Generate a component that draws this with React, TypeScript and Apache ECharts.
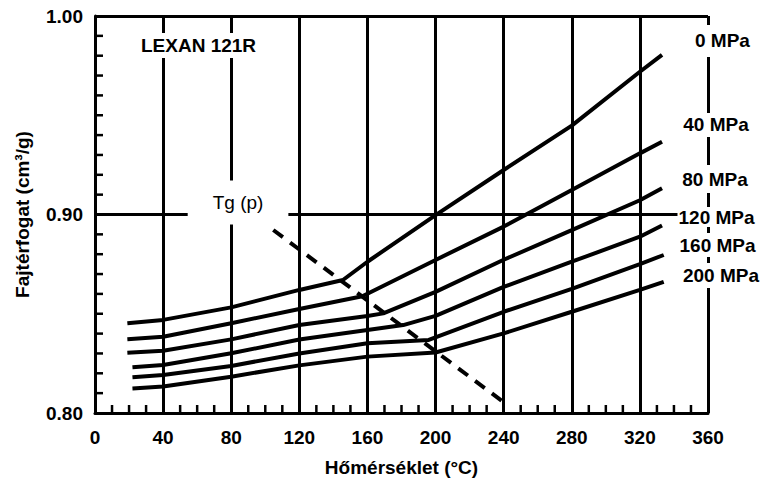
import React, { useEffect, useRef } from "react";
import * as echarts from "echarts";

// Temperature (°C) / specific volume (cm³/g) points
const p0MPa: [number, number][] = [
  [19, 0.8452], [40, 0.8469], [80, 0.8532], [120, 0.862], [145.6, 0.867],
  [160, 0.8762], [200, 0.8997], [240, 0.9224], [280, 0.9448], [320, 0.9719], [333, 0.9804],
];
const p40MPa: [number, number][] = [
  [19, 0.8371], [40, 0.8384], [80, 0.8452], [120, 0.8524], [157, 0.8588],
  [200, 0.8771], [240, 0.8939], [280, 0.9123], [320, 0.9308], [333, 0.9367],
];
const p80MPa: [number, number][] = [
  [19, 0.8303], [40, 0.8314], [80, 0.8371], [120, 0.8443], [160, 0.8489], [169.3, 0.8502],
  [200, 0.861], [240, 0.8772], [280, 0.8921], [320, 0.9072], [333, 0.9132],
];
const p120MPa: [number, number][] = [
  [22, 0.823], [40, 0.8242], [80, 0.8301], [120, 0.837], [160, 0.8418], [181, 0.8443],
  [200, 0.8489], [240, 0.8635], [280, 0.8762], [320, 0.8888], [333, 0.8945],
];
const p160MPa: [number, number][] = [
  [22, 0.818], [40, 0.8191], [80, 0.8237], [120, 0.83], [160, 0.8351], [196, 0.8368],
  [240, 0.851], [280, 0.8625], [320, 0.875], [334, 0.8796],
];
const p200MPa: [number, number][] = [
  [22, 0.8124], [40, 0.8133], [80, 0.8183], [120, 0.824], [160, 0.8284], [200, 0.8305],
  [240, 0.8401], [280, 0.851], [320, 0.862], [334, 0.8661],
];
const tgLine: [number, number][] = [
  [104.7, 0.8922], [240.8, 0.8049],
];

const curves = [p0MPa, p40MPa, p80MPa, p120MPa, p160MPa, p200MPa];

// Minor tick positions on the axes
const xMinorTicks = [10, 20, 30, 50, 60, 70, 90, 100, 110, 130, 140, 150, 170, 180, 190,
  210, 220, 230, 250, 260, 270, 290, 300, 310, 330, 340, 350];
const yMinorTicks = [0.81, 0.82, 0.83, 0.84, 0.85, 0.86, 0.87, 0.88, 0.89,
  0.91, 0.92, 0.93, 0.94, 0.95, 0.96, 0.97, 0.98, 0.99];

// Annotation texts: [text, x, y, padding, weight]
const notes: [string, number, number, number[], string][] = [
  ["LEXAN 121R", 60.8, 0.98514, [4, 6, 2, 6], "bold"],
  ["Tg (p)", 84.0, 0.90605, [17, 25, 8, 25], "normal"],
  ["0 MPa", 368.5, 0.98741, [7, 1, 6, 1], "bold"],
  ["40 MPa", 364.7, 0.94509, [4, 1, 1, 1], "bold"],
  ["80 MPa", 364.1, 0.91788, [3, 1, 6, 1], "bold"],
  ["120 MPa", 365.0, 0.89874, [0, 1, 1, 1], "bold"],
  ["160 MPa", 365.6, 0.88463, [3, 1, 2, 1], "bold"],
  ["200 MPa", 367.6, 0.86927, [3, 1, 3, 1], "bold"],
];

const FONT = "'Liberation Sans', Arial, sans-serif";
const X_MIN = 0;
const Y_MIN = 0.8;

export default function App() {
  const ref = useRef<HTMLDivElement>(null);
  useEffect(() => {
    document.body.style.margin = "0";
    if (!ref.current) return;
    const chart = echarts.init(ref.current, undefined, { renderer: "svg" });
    const axisText = { color: "#000", fontWeight: "bold" as const, fontSize: 19, fontFamily: FONT };
    const xTicks = xMinorTicks.map((v) => [v, Y_MIN]);
    const yTicks = yMinorTicks.map((v) => [X_MIN, v]);
    chart.setOption({
      animation: false,
      backgroundColor: "#fff",
      grid: { left: 95, right: 55, top: 16, bottom: 75 },
      xAxis: {
        type: "value",
        min: 0,
        max: 360,
        interval: 40,
        name: "Hőmérséklet (°C)",
        nameLocation: "middle",
        nameGap: 45,
        nameTextStyle: axisText,
        axisLine: { show: true, lineStyle: { color: "#000", width: 3 } },
        axisTick: { show: false },
        axisLabel: { ...axisText, margin: 15 },
        splitLine: { show: true, lineStyle: { color: "#000", width: 3 } },
      },
      yAxis: {
        type: "value",
        min: 0.8,
        max: 1.0,
        interval: 0.1,
        name: "Fajtérfogat (cm³/g)",
        nameLocation: "middle",
        nameGap: 63,
        nameTextStyle: axisText,
        axisLine: { show: true, lineStyle: { color: "#000", width: 3 } },
        axisTick: { show: false },
        axisLabel: {
          ...axisText,
          margin: 12,
          padding: [5, 0, 0, 0],
          formatter: (v: number) => v.toFixed(2),
        },
        splitLine: { show: true, lineStyle: { color: "#000", width: 3 } },
      },
      series: [
        ...curves.map((d) => ({
          type: "line",
          data: d,
          showSymbol: false,
          symbol: "none",
          silent: true,
          lineStyle: { color: "#000", width: 4 },
          z: 3,
        })),
        {
          type: "line",
          data: tgLine,
          symbol: "none",
          silent: true,
          lineStyle: { color: "#000", width: 4, type: [12, 9] },
          z: 3,
        },
        {
          // minor ticks on the bottom axis, pointing inward
          type: "scatter",
          data: xTicks,
          silent: true,
          clip: false,
          symbol: "rect",
          symbolSize: [2.5, 8],
          symbolOffset: [0, -4],
          itemStyle: { color: "#000", opacity: 1 },
          z: 4,
        },
        {
          // minor ticks on the left axis, pointing inward
          type: "scatter",
          data: yTicks,
          silent: true,
          clip: false,
          symbol: "rect",
          symbolSize: [8, 2.5],
          symbolOffset: [4, 0],
          itemStyle: { color: "#000", opacity: 1 },
          z: 4,
        },
        {
          type: "scatter",
          silent: true,
          clip: false,
          symbolSize: 1,
          itemStyle: { color: "rgba(255,255,255,0)", opacity: 1 },
          z: 5,
          data: notes.map(([t, x, y, pad, w]) => ({
            name: t,
            value: [x, y],
            label: {
              show: true,
              position: "inside",
              formatter: t,
              color: "#000",
              opacity: 1,
              fontSize: 19,
              fontWeight: w,
              fontFamily: FONT,
              backgroundColor: "#fff",
              padding: pad,
              align: "center",
              verticalAlign: "middle",
            },
          })),
        },
      ],
    });
    return () => chart.dispose();
  }, []);
  return <div ref={ref} style={{ width: 763, height: 488 }} />;
}
